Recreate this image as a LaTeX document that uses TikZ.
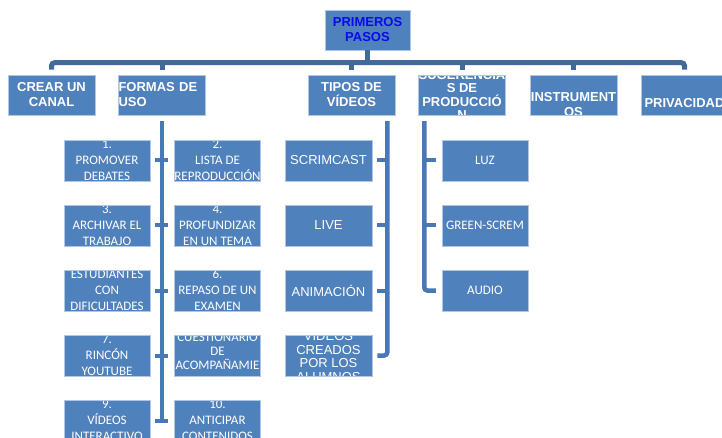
\documentclass[tikz,border=0pt]{standalone}
\usepackage{fontspec}
\setmainfont{Liberation Sans}
\newfontfamily\calibrifont{Carlito}
\usepackage{xcolor}
\usetikzlibrary{positioning, calc}

\definecolor{boxblue}{HTML}{4F81BD}
\definecolor{barblue}{HTML}{41699A}
\definecolor{linkblue}{HTML}{4878B5}
\definecolor{titleblue}{HTML}{0A0AEB}

\tikzset{
  box/.style={fill=boxblue, draw=white!55!boxblue, line width=0.5pt, inner sep=0pt},
  boxtxt/.style={text=white, align=center, inner sep=0pt},
  says low/.style 2 args={path picture={\node[boxtxt] at ([yshift=#1]path picture bounding box.center) {#2};}},
  says/.style={says low={0pt}{#1}},
  head/.style={box, minimum width=87pt, minimum height=40pt, font=\fontsize{13}{15}\selectfont\bfseries},
  item/.style={box, minimum width=86pt, minimum height=41pt, font=\calibrifont\fontsize{13}{16}\selectfont},
  kind/.style={box, minimum width=87pt, minimum height=41pt, font=\fontsize{13}{13.5}\selectfont},
  bar/.style={draw=barblue, line width=5pt},
  spine/.style={draw=linkblue, line width=4.5pt},
  tick/.style={draw=linkblue, line width=4pt}
}

\begin{document}
\begin{tikzpicture}[x=1pt,y=-1pt]
\useasboundingbox (0,0) rectangle (722,438);
\clip (0,0) rectangle (722,438);

% top of the tree
\node[box, minimum width=85pt, minimum height=40pt, text=titleblue, align=center,
  font=\fontsize{13}{15}\selectfont\bfseries] (root) at (367.5,30) {PRIMEROS\\PASOS};

\node[head, says={CREAR UN\\CANAL}] (crear) at (51.5,95) {};
\node[head, path picture={\node[boxtxt, align=left, text width=87pt] at (path picture bounding box.center) {FORMAS DE\\USO};}] (formas) at (162,95) {};
\node[head, says={TIPOS DE\\VÍDEOS}] (tipos) at (351.5,95) {};
\node[head, font=\fontsize{13}{13.5}\selectfont\bfseries, says={SUGERENCIA\\S DE\\PRODUCCIÓ\\N}] (suger) at (462,95) {};
\node[head, says low={-9.5pt}{INSTRUMENT\\OS}] (instr) at (573.5,95) {};
\node[head, says low={-8pt}{PRIVACIDAD}] (priv) at (684.5,95) {};

\draw[bar] (root.south) -- ++(0,13);
\draw[bar, rounded corners=3pt] ([yshift=5pt]crear.north) -- ++(0,-7) -| ([yshift=5pt]priv.north);
\foreach \n in {formas,tipos,suger,instr}
  \draw[bar] ([yshift=5pt]\n.north) -- ++(0,-7);

% formas de uso
\foreach \n/\x/\y/\t in {f1/107/160.5/{1.\\PROMOVER\\DEBATES},
    f2/217.5/160.5/{2.\\LISTA DE\\REPRODUCCIÓN},
    f3/107/225.5/{3.\\ARCHIVAR EL\\TRABAJO},
    f4/217.5/225.5/{4.\\PROFUNDIZAR\\EN UN TEMA},
    f5/107/290.5/{ESTUDIANTES\\CON\\DIFICULTADES},
    f6/217.5/290.5/{6.\\REPASO DE UN\\EXAMEN},
    f7/107/355.5/{7.\\RINCÓN\\YOUTUBE},
    f9/107/420.5/{9.\\VÍDEOS\\INTERACTIVO},
    f10/217.5/420.5/{10.\\ANTICIPAR\\CONTENIDOS}}
  \node[item, says={\t}] (\n) at (\x,\y) {};
\node[item, font=\calibrifont\fontsize{13}{14}\selectfont,
  says low={4.5pt}{CUESTIONARIO\\DE\\ACOMPAÑAMIE}] (f8) at (217.5,355.5) {};

\draw[spine] ([yshift=-6pt]formas.south) -- (formas.south |- f9.east);
\foreach \i/\j in {f1/f2,f3/f4,f5/f6,f7/f8,f9/f10}
  \draw[tick] ([xshift=5pt]\i.east) -- ([xshift=-6pt]\j.west);

% tipos de videos
\foreach \n/\y/\t in {t1/160.5/SCRIMCAST, t2/225.5/LIVE, t3/290.5/ANIMACIÓN,
    t4/355.5/{VÍDEOS\\CREADOS\\POR LOS\\ALUMNOS}}
  \node[kind, says={\t}] (\n) at (328.5,\y) {};

\coordinate (tdrop) at ([xshift=-8pt,yshift=-6pt]tipos.south east);
\draw[spine, rounded corners=3pt] (tdrop) |- ([xshift=5pt]t4.east);
\foreach \n in {t1,t2,t3}
  \draw[tick] ([xshift=5pt]\n.east) -- (tdrop |- \n.east);

% sugerencias
\foreach \n/\y/\t in {s1/160.5/LUZ, s2/225.5/GREEN-SCREM, s3/290.5/AUDIO}
  \node[item, says={\t}] (\n) at (485,\y) {};

\coordinate (sdrop) at ([xshift=6pt,yshift=-6pt]suger.south west);
\draw[spine, rounded corners=3pt] (sdrop) |- ([xshift=-6pt]s3.west);
\foreach \n in {s1,s2}
  \draw[tick] ([xshift=-6pt]\n.west) -- (sdrop |- \n.west);
\end{tikzpicture}
\end{document}
